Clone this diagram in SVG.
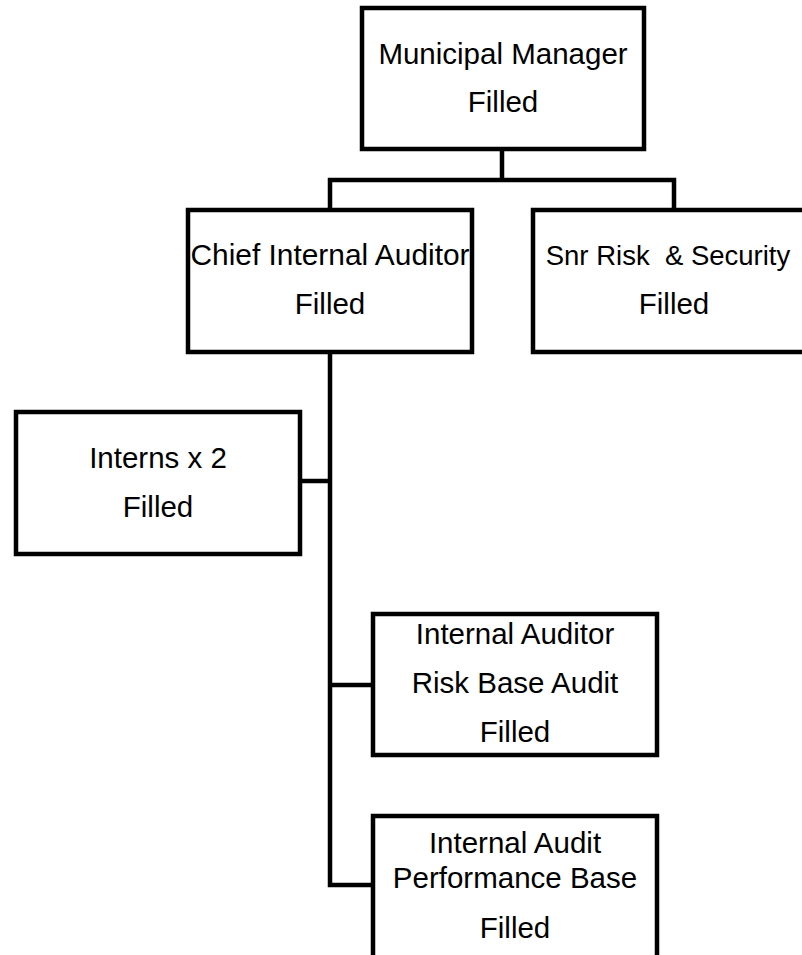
<svg xmlns="http://www.w3.org/2000/svg" width="802" height="955" viewBox="0 0 802 955">
<style>
.box{fill:#fff;stroke:#000;stroke-width:4.5}
.con{fill:none;stroke:#000;stroke-width:4.5}
.t{font-family:"Liberation Sans",Arial,sans-serif;font-size:29.5px;fill:#000;text-anchor:middle;white-space:pre}
</style>
<rect width="802" height="955" fill="#fff"/>
<g id="connectors">
<path class="con" d="M502,149 V180 M330,210 V180 H674 V210"/>
<path class="con" d="M330,352 V885 H373"/>
<path class="con" d="M300,481 H330"/>
<path class="con" d="M330,685 H373"/>
</g>
<g id="municipal-manager">
<rect class="box" x="362" y="8" width="282" height="141"/>
<text class="t" x="503" y="64">Municipal Manager</text>
<text class="t" x="503" y="112">Filled</text>
</g>
<g id="chief-internal-auditor">
<rect class="box" x="188" y="210" width="284" height="142"/>
<text class="t" x="330" y="265" textLength="279" lengthAdjust="spacingAndGlyphs">Chief Internal Auditor</text>
<text class="t" x="330" y="314">Filled</text>
</g>
<g id="snr-risk-security">
<path class="box" d="M802,210 H533 V352 H802"/>
<text class="t" x="668" y="265" xml:space="preserve" style="font-size:27.5px">Snr Risk  &amp; Security</text>
<text class="t" x="674" y="314">Filled</text>
</g>
<g id="interns">
<rect class="box" x="16" y="412" width="284" height="142"/>
<text class="t" x="158" y="468">Interns x 2</text>
<text class="t" x="158" y="517">Filled</text>
</g>
<g id="internal-auditor-risk">
<rect class="box" x="373" y="614" width="284" height="141"/>
<text class="t" x="515" y="644">Internal Auditor</text>
<text class="t" x="515" y="693">Risk Base Audit</text>
<text class="t" x="515" y="742">Filled</text>
</g>
<g id="internal-audit-performance">
<path class="box" d="M373,955 V816 H657 V955"/>
<text class="t" x="515" y="853">Internal Audit</text>
<text class="t" x="515" y="888">Performance Base</text>
<text class="t" x="515" y="938">Filled</text>
</g>
</svg>
